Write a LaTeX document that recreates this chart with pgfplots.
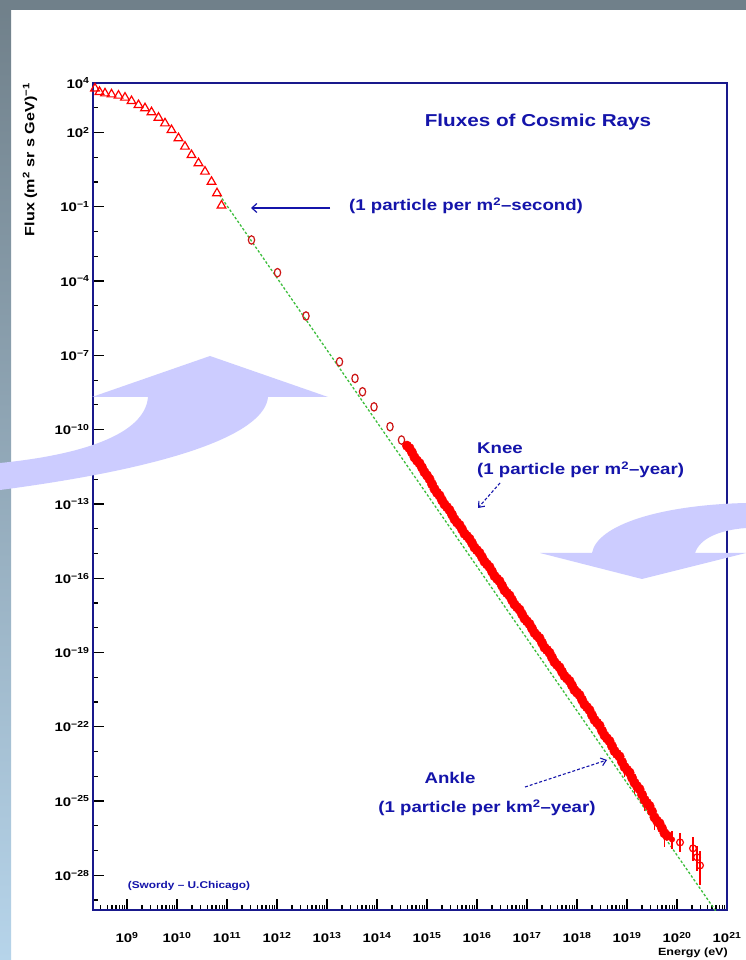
\documentclass[border=0pt]{standalone}
\usepackage{fontspec}
\setmainfont{Liberation Sans}
\newfontfamily\wide[FakeStretch=1.2]{Liberation Sans}
\usepackage{pgfplots}
\usepackage{pgfplotstable}
\pgfplotsset{compat=1.18}
\usetikzlibrary{arrows.meta}
\definecolor{navy}{RGB}{25,25,140}
\definecolor{annblue}{RGB}{20,20,170}
\definecolor{lav}{RGB}{204,204,255}
\definecolor{fgreen}{RGB}{60,190,60}
\definecolor{stripTop}{RGB}{112,128,138}
\definecolor{stripBot}{RGB}{182,212,234}
\definecolor{dred}{RGB}{205,20,20}

\def\minxlist{3e8}
\foreach \m in {4,...,9}{\xdef\minxlist{\minxlist,\m e8}}
\foreach \e in {9,...,20}{\foreach \m in {2,...,9}{\xdef\minxlist{\minxlist,\m e\e}}}
\newcommand\tl[1]{10\textsuperscript{#1}}

% log10 values
\pgfplotstableread{
lx ly
8.36 3.78
8.45 3.64
8.56 3.58
8.69 3.54
8.83 3.49
8.96 3.41
9.09 3.27
9.23 3.11
9.36 2.98
9.49 2.82
9.63 2.60
9.76 2.37
9.89 2.10
10.03 1.77
10.16 1.43
10.29 1.09
10.43 0.76
10.56 0.42
10.69 0.01
10.80 -0.45
10.89 -0.95
}\lowE

\pgfplotstableread{
lx ly
11.49 -2.34
12.01 -3.66
12.58 -5.41
13.25 -7.26
13.56 -7.93
13.71 -8.47
13.94 -9.08
14.26 -9.88
14.49 -10.42
}\midE

\pgfplotstableread{
lx ly
14.60 -10.65
14.65 -10.75
14.70 -10.92
14.75 -11.12
14.80 -11.25
14.85 -11.36
14.90 -11.53
14.95 -11.72
15.00 -11.85
15.05 -12.00
15.10 -12.20
15.15 -12.40
15.20 -12.55
15.25 -12.66
15.30 -12.85
15.35 -13.02
15.40 -13.13
15.45 -13.25
15.50 -13.43
15.55 -13.62
15.60 -13.75
15.65 -13.85
15.70 -14.02
15.75 -14.20
15.80 -14.30
15.85 -14.41
15.90 -14.58
15.95 -14.76
16.00 -14.87
16.05 -14.98
16.10 -15.15
16.15 -15.33
16.20 -15.44
16.25 -15.55
16.30 -15.73
16.35 -15.91
16.40 -16.02
16.45 -16.12
16.50 -16.30
16.55 -16.49
16.60 -16.60
16.65 -16.70
16.70 -16.88
16.75 -17.06
16.80 -17.17
16.85 -17.27
16.90 -17.45
16.95 -17.63
17.00 -17.74
17.05 -17.85
17.10 -18.03
17.15 -18.21
17.20 -18.32
17.25 -18.42
17.30 -18.61
17.35 -18.80
17.40 -18.90
17.45 -19.01
17.50 -19.20
17.55 -19.39
17.60 -19.50
17.65 -19.60
17.70 -19.78
17.75 -19.95
17.80 -20.05
17.85 -20.15
17.90 -20.33
17.95 -20.52
18.00 -20.62
18.05 -20.72
18.10 -20.91
18.15 -21.10
18.20 -21.21
18.25 -21.33
18.30 -21.53
18.35 -21.72
18.40 -21.84
18.45 -21.95
18.50 -22.16
18.55 -22.35
18.60 -22.47
18.65 -22.58
18.70 -22.78
18.75 -22.98
18.80 -23.10
18.85 -23.20
18.90 -23.42
18.95 -23.62
19.00 -23.74
19.05 -23.85
19.10 -24.06
19.15 -24.26
19.20 -24.40
19.25 -24.52
19.30 -24.74
19.35 -24.95
19.40 -25.08
19.45 -25.20
19.50 -25.42
19.55 -25.66
19.60 -25.80
19.65 -25.90
19.70 -26.10
19.75 -26.30
19.80 -26.40
}\band

\pgfplotstableread{
lx ly eu ed
18.70 -22.78 0.25 0.35
18.95 -23.62 0.25 0.40
19.15 -24.26 0.30 0.45
19.35 -24.95 0.30 0.45
19.55 -25.66 0.35 0.50
19.75 -26.30 0.35 0.55
19.90 -26.55 0.35 0.40
}\bandErr

\pgfplotstableread{
lx ly eu ed
20.06 -26.67 0.40 0.40
20.32 -26.91 0.45 0.50
20.40 -27.27 0.45 0.55
20.46 -27.60 0.60 0.80
}\tailE

\begin{document}
\begin{tikzpicture}[x=1bp,y=1bp]
\fill[white] (0,0) rectangle (746,960);
\shade[top color=stripTop, bottom color=stripBot] (0,0) rectangle (11,960);
\fill[stripTop] (0,950) rectangle (746,960);

\begin{axis}[
  at={(93bp,50bp)}, anchor=south west,
  width=634bp, height=827bp, scale only axis,
  xmode=log, ymode=log,
  xmin=2.09e8, xmax=1e21, ymin=3.98e-30, ymax=1e4,
  xtick={1e9,1e10,1e11,1e12,1e13,1e14,1e15,1e16,1e17,1e18,1e19,1e20,1e21},
  xticklabels={\tl{9},\tl{10},\tl{11},\tl{12},\tl{13},\tl{14},\tl{15},\tl{16},\tl{17},\tl{18},\tl{19},\tl{20},\tl{21}},
  minor xtick/.expanded={\minxlist},
  ytick={1e-28,1e-25,1e-22,1e-19,1e-16,1e-13,1e-10,1e-7,1e-4,1e-1,1e2,1e4},
  yticklabels={\tl{−28},\tl{−25},\tl{−22},\tl{−19},\tl{−16},\tl{−13},\tl{−10},\tl{−7},\tl{−4},\tl{−1},\tl{2},\tl{4}},
  minor ytick={1e-29,1e-27,1e-26,1e-24,1e-23,1e-21,1e-20,1e-18,1e-17,1e-15,1e-14,1e-12,1e-11,1e-9,1e-8,1e-6,1e-5,1e-3,1e-2,1e0,1e1,1e3},
  tick align=inside, tick pos=left,
  major tick length=11bp, minor tick length=5bp,
  every tick/.style={black, line width=1.2bp},
  axis line style={draw=navy, line width=1.6bp},
  ticklabel style={font=\wide\bfseries\fontsize{12.5}{13}\selectfont, text=black},
  xticklabel style={yshift=-19bp},
  clip=true,
]
\addplot[fgreen, line width=1.3bp, dash pattern=on 2.5bp off 2bp] coordinates {(7.08e10,3.02e-1) (7.94e20,1.55e-30)};
\addplot[only marks, mark=triangle, mark size=5bp, red, mark options={line width=1.2bp}]
  table[x expr={10^\thisrow{lx}}, y expr={10^\thisrow{ly}}] {\lowE};
\addplot[only marks, mark=o, mark size=4.2bp, dred, mark options={line width=1.2bp, xscale=0.75}]
  table[x expr={10^\thisrow{lx}}, y expr={10^\thisrow{ly}}] {\midE};
\addplot[only marks, mark=*, mark size=4.8bp, red, mark options={draw=red, fill=red}]
  table[x expr={10^\thisrow{lx}}, y expr={10^\thisrow{ly}}] {\band};
\addplot[only marks, mark=*, mark size=2.8bp, red, mark options={draw=red, fill=red},
  error bars/.cd, y dir=both, y explicit, error mark=none,
  error bar style={red, line width=1.2bp}]
  table[x expr={10^\thisrow{lx}}, y expr={10^\thisrow{ly}},
        y error plus expr={10^(\thisrow{ly}+\thisrow{eu})-10^(\thisrow{ly})},
        y error minus expr={10^(\thisrow{ly})-10^(\thisrow{ly}-\thisrow{ed})}] {\bandErr};
\addplot[only marks, mark=o, mark size=3.4bp, red, mark options={line width=1.2bp},
  error bars/.cd, y dir=both, y explicit, error mark=none,
  error bar style={red, line width=1.2bp}]
  table[x expr={10^\thisrow{lx}}, y expr={10^\thisrow{ly}},
        y error plus expr={10^(\thisrow{ly}+\thisrow{eu})-10^(\thisrow{ly})},
        y error minus expr={10^(\thisrow{ly})-10^(\thisrow{ly}-\thisrow{ed})}] {\tailE};
\end{axis}

% axis titles
\node[rotate=90, anchor=east, font=\wide\bfseries\fontsize{13.5}{14}\selectfont, inner sep=0] at (30,877) {Flux (m\textsuperscript{2} sr s GeV)\textsuperscript{−1}};
\node[anchor=base east, font=\wide\bfseries\fontsize{10.5}{11}\selectfont, inner sep=0] at (728,4) {Energy (eV)};

% annotations
\node[font=\wide\bfseries\fontsize{17.3}{18}\selectfont, text=annblue] at (538,838) {Fluxes of Cosmic Rays};
\node[anchor=west, font=\wide\bfseries\fontsize{15.6}{16}\selectfont, text=annblue, inner sep=0] at (349,754) {(1 particle per m\textsuperscript{2}–second)};
\draw[annblue, line width=1.2bp, -{Straight Barb[length=5bp,width=9bp]}] (330,752) -- (251,752);
\node[anchor=west, font=\wide\bfseries\fontsize{15.6}{16}\selectfont, text=annblue, inner sep=0] at (477,512) {Knee};
\node[anchor=west, font=\wide\bfseries\fontsize{15.6}{16}\selectfont, text=annblue, inner sep=0] at (477,490) {(1 particle per m\textsuperscript{2}–year)};
\draw[annblue, line width=1.1bp, densely dashed, -{Straight Barb[length=5bp,width=8bp]}] (500,477) -- (478,452);
\node[font=\wide\bfseries\fontsize{15.6}{16}\selectfont, text=annblue, inner sep=0] at (450,182) {Ankle};
\node[font=\wide\bfseries\fontsize{15.6}{16}\selectfont, text=annblue, inner sep=0] at (487,152) {(1 particle per km\textsuperscript{2}–year)};
\draw[annblue, line width=1.1bp, densely dashed, -{Straight Barb[length=5bp,width=8bp]}] (525,173) -- (607,200);
\node[font=\wide\bfseries\fontsize{9.9}{10}\selectfont, text=annblue, inner sep=0] at (189,74) {(Swordy – U.Chicago)};

% decorative arrows
\fill[lav] (92,563) -- (210,604) -- (328,563) -- (268,563)
  .. controls (265,530) and (190,495) .. (0,470) -- (0,497)
  .. controls (80,505) and (145,525) .. (148,563) -- cycle;
\fill[lav] (540,407) -- (642,381) -- (746,407) -- (695,407)
  .. controls (700,422) and (720,430) .. (746,432) -- (746,457)
  .. controls (660,455) and (597,435) .. (592,407) -- cycle;

\pgfresetboundingbox
\path[use as bounding box] (0,0) rectangle (746,960);
\end{tikzpicture}
\end{document}
